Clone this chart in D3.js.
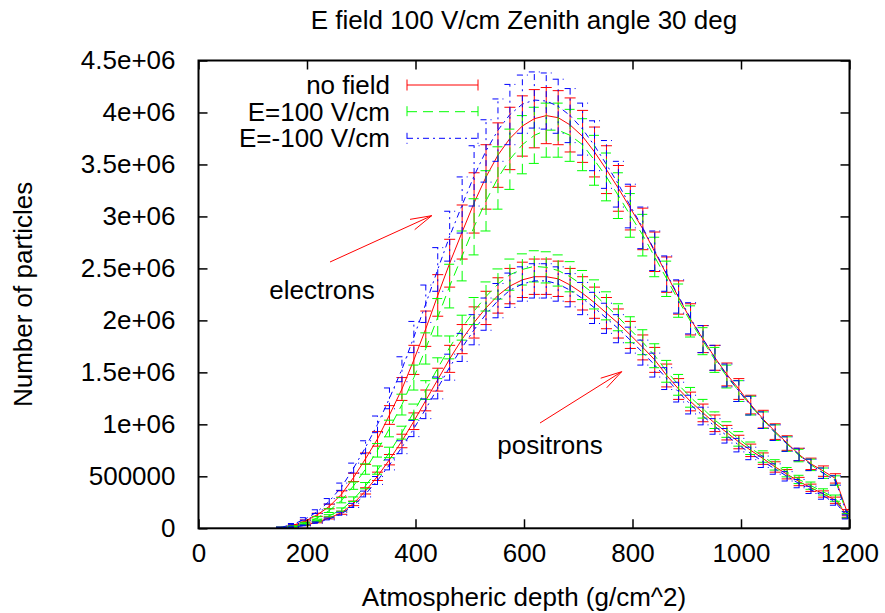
<!DOCTYPE html>
<html><head><meta charset="utf-8">
<script src="https://cdn.jsdelivr.net/npm/d3@7"></script>
<style>body{margin:0;background:#fff} text{font-family:"Liberation Sans",Arial,sans-serif;fill:#000}</style>
</head><body><svg id="c" width="885" height="613"></svg>
<script>
const depth = [153,175,197,219,241,264,286,308,330,352,375,397,419,441,463,486,508,530,552,574,597,619,641,663,685,708,730,752,774,796,819,841,863,885,907,930,952,974,996,1018,1041,1063,1085,1107,1129,1152,1174,1196];

// electrons (millions)
const eNoField = [0.01,0.03,0.07,0.13,0.21,0.33,0.49,0.67,0.86,1.09,1.34,1.62,1.92,2.24,2.55,2.85,3.13,3.38,3.59,3.75,3.87,3.94,3.97,3.95,3.88,3.77,3.62,3.45,3.27,3.08,2.88,2.66,2.44,2.22,2.01,1.82,1.64,1.48,1.34,1.19,1.05,0.93,0.82,0.71,0.62,0.55,0.48,0.15];
const eNoFieldErr = [0.002,0.005,0.01,0.015,0.022,0.03,0.04,0.055,0.07,0.09,0.11,0.14,0.17,0.2,0.23,0.26,0.29,0.31,0.31,0.3,0.29,0.28,0.27,0.26,0.26,0.25,0.24,0.23,0.22,0.21,0.2,0.19,0.17,0.16,0.15,0.13,0.12,0.11,0.1,0.09,0.085,0.075,0.07,0.06,0.055,0.05,0.045,0.03];
const eE100 = [0.01,0.02,0.05,0.10,0.17,0.27,0.41,0.57,0.75,0.96,1.19,1.45,1.73,2.03,2.33,2.62,2.90,3.15,3.37,3.55,3.69,3.78,3.83,3.83,3.78,3.69,3.54,3.38,3.20,3.01,2.82,2.61,2.40,2.19,1.99,1.80,1.62,1.46,1.32,1.18,1.04,0.92,0.81,0.70,0.61,0.53,0.46,0.13];
const eE100Err = [0.002,0.004,0.008,0.012,0.018,0.025,0.035,0.05,0.065,0.08,0.1,0.12,0.15,0.18,0.21,0.24,0.27,0.29,0.3,0.29,0.28,0.27,0.26,0.26,0.25,0.25,0.24,0.23,0.22,0.21,0.2,0.19,0.17,0.16,0.15,0.13,0.12,0.11,0.1,0.09,0.08,0.075,0.07,0.06,0.055,0.05,0.045,0.03];
const eEm100 = [0.01,0.04,0.09,0.16,0.26,0.40,0.58,0.78,1.00,1.25,1.53,1.84,2.16,2.49,2.81,3.11,3.39,3.63,3.83,3.98,4.08,4.12,4.11,4.06,3.97,3.84,3.68,3.50,3.31,3.10,2.89,2.67,2.45,2.23,2.02,1.82,1.64,1.47,1.32,1.18,1.04,0.92,0.81,0.71,0.61,0.53,0.46,0.13];
const eEm100Err = [0.002,0.006,0.012,0.018,0.026,0.035,0.047,0.062,0.08,0.1,0.12,0.15,0.18,0.21,0.24,0.27,0.29,0.3,0.3,0.29,0.28,0.27,0.27,0.26,0.26,0.25,0.24,0.23,0.22,0.21,0.2,0.19,0.17,0.16,0.15,0.13,0.12,0.11,0.1,0.09,0.08,0.075,0.07,0.06,0.055,0.05,0.045,0.03];

// positrons (millions)
const pNoField = [0.005,0.015,0.03,0.06,0.10,0.15,0.24,0.36,0.50,0.66,0.84,1.03,1.23,1.43,1.63,1.82,1.98,2.12,2.24,2.33,2.39,2.42,2.42,2.40,2.34,2.26,2.17,2.07,1.97,1.86,1.74,1.62,1.47,1.34,1.22,1.11,1.01,0.92,0.83,0.75,0.67,0.59,0.52,0.45,0.39,0.33,0.27,0.12];
const pNoFieldErr = [0.001,0.002,0.004,0.007,0.01,0.015,0.022,0.03,0.04,0.05,0.065,0.08,0.1,0.11,0.13,0.14,0.15,0.16,0.17,0.17,0.17,0.17,0.17,0.17,0.16,0.16,0.15,0.15,0.14,0.13,0.12,0.12,0.11,0.1,0.09,0.085,0.08,0.07,0.065,0.06,0.055,0.05,0.045,0.04,0.035,0.03,0.03,0.02];
const pE100 = [0.005,0.015,0.035,0.07,0.12,0.18,0.28,0.41,0.56,0.73,0.92,1.12,1.33,1.54,1.74,1.93,2.09,2.23,2.35,2.44,2.49,2.52,2.51,2.48,2.42,2.34,2.25,2.14,2.03,1.91,1.79,1.66,1.51,1.38,1.26,1.15,1.04,0.95,0.86,0.77,0.69,0.61,0.54,0.47,0.41,0.35,0.29,0.12];
const pE100Err = [0.001,0.002,0.004,0.007,0.011,0.016,0.022,0.03,0.04,0.05,0.062,0.075,0.09,0.1,0.11,0.12,0.13,0.14,0.145,0.15,0.15,0.15,0.15,0.15,0.145,0.14,0.14,0.135,0.13,0.125,0.12,0.115,0.105,0.1,0.095,0.09,0.08,0.075,0.07,0.06,0.055,0.05,0.045,0.04,0.035,0.03,0.03,0.02];
const pEm100 = [0.005,0.012,0.028,0.055,0.09,0.14,0.22,0.33,0.46,0.61,0.78,0.96,1.15,1.35,1.55,1.74,1.91,2.06,2.19,2.29,2.35,2.38,2.38,2.35,2.29,2.21,2.12,2.02,1.92,1.81,1.69,1.57,1.44,1.31,1.19,1.08,0.98,0.89,0.80,0.72,0.64,0.57,0.50,0.43,0.37,0.31,0.25,0.11];
const pEm100Err = [0.001,0.002,0.004,0.006,0.009,0.014,0.02,0.028,0.038,0.048,0.062,0.078,0.095,0.105,0.125,0.135,0.145,0.155,0.165,0.165,0.165,0.165,0.165,0.165,0.16,0.155,0.15,0.145,0.135,0.125,0.12,0.115,0.105,0.095,0.09,0.085,0.075,0.07,0.065,0.06,0.055,0.05,0.045,0.04,0.035,0.03,0.028,0.02];

const xTicks = [0,200,400,600,800,1000,1200];
const yTicks = [0,0.5,1,1.5,2,2.5,3,3.5,4,4.5];
const yTickLabels = ["0","500000","1e+06","1.5e+06","2e+06","2.5e+06","3e+06","3.5e+06","4e+06","4.5e+06"];
const legendLabels = ["no field","E=100 V/cm","E=-100 V/cm"];

const FS = 26;
const FONT = '"Liberation Sans",Arial,sans-serif';
const svg = d3.select("#c");
const L = 198.5, R = 849.5, T = 60.5, B = 528.3;
const x = d3.scaleLinear([0,1200],[L,R]);
const y = d3.scaleLinear([0,4.5],[B,T]);

const styles = [
  {color:"#ff0000", dash:null},
  {color:"#00ff00", dash:"10,6"},
  {color:"#0000ff", dash:"6,4,2,4"}
];

svg.append("clipPath").attr("id","clip").append("rect")
  .attr("x",L).attr("y",T).attr("width",R-L).attr("height",B-T);

const plot = svg.append("g").attr("clip-path","url(#clip)");
const seriesList = [
  {v:eNoField, e:eNoFieldErr, s:0},
  {v:eE100, e:eE100Err, s:1},
  {v:eEm100, e:eEm100Err, s:2},
  {v:pNoField, e:pNoFieldErr, s:0},
  {v:pE100, e:pE100Err, s:1},
  {v:pEm100, e:pEm100Err, s:2}
];
const cap = 5.5;
seriesList.forEach(ser => {
  const st = styles[ser.s];
  const g = plot.append("g").attr("stroke",st.color).attr("fill","none").attr("stroke-width",1);
  if (st.dash) g.attr("stroke-dasharray", st.dash);
  const pts = depth.map((d,i)=>({d, v:ser.v[i], e:ser.e[i]}));
  g.selectAll("path.bar").data(pts).join("path").attr("class","bar")
    .attr("d", p => {
      const xx = x(p.d), y1 = y(p.v - p.e), y2 = y(p.v + p.e);
      return `M${xx},${y1}V${y2}M${xx-cap},${y1}H${xx+cap}M${xx-cap},${y2}H${xx+cap}`;
    });
  g.append("path").datum(pts)
    .attr("d", d3.line().x(p=>x(p.d)).y(p=>y(p.v)));
});

// axes
const tickLen = 9;
const ax = svg.append("g");
const xb = ax.append("g").attr("transform",`translate(0,${B})`)
  .call(d3.axisBottom(x).tickValues(xTicks).tickSize(-tickLen).tickPadding(15).tickFormat(d3.format("d")));
const xt = ax.append("g").attr("transform",`translate(0,${T})`)
  .call(d3.axisTop(x).tickValues(xTicks).tickSize(-tickLen).tickFormat(""));
const yl = ax.append("g").attr("transform",`translate(${L},0)`)
  .call(d3.axisLeft(y).tickValues(yTicks).tickSize(-tickLen).tickPadding(23).tickFormat((d,i)=>yTickLabels[i]));
const yr = ax.append("g").attr("transform",`translate(${R},0)`)
  .call(d3.axisRight(y).tickValues(yTicks).tickSize(-tickLen).tickFormat(""));
[xb,xt,yl,yr].forEach(g=>g.attr("font-size",FS).attr("font-family",FONT));
ax.selectAll(".domain").remove();
ax.selectAll(".tick line").attr("stroke","#000").attr("stroke-width",1.5);
ax.selectAll(".tick text").attr("fill","#000");
svg.append("rect").attr("x",L).attr("y",T).attr("width",R-L).attr("height",B-T)
  .attr("fill","none").attr("stroke","#000").attr("stroke-width",2);

// titles
svg.append("text").attr("x",(L+R)/2).attr("y",29).attr("text-anchor","middle").attr("font-size",FS)
  .text("E field 100 V/cm Zenith angle 30 deg");
svg.append("text").attr("x",(L+R)/2).attr("y",606).attr("text-anchor","middle").attr("font-size",FS)
  .text("Atmospheric depth (g/cm^2)");
svg.append("text").attr("transform",`translate(32,${(T+B)/2}) rotate(-90)`).attr("text-anchor","middle").attr("font-size",FS)
  .text("Number of particles");

// legend
const legY = [85, 111.7, 138.3];
legendLabels.forEach((lab,i)=>{
  const st = styles[i];
  svg.append("text").attr("x",390).attr("y",legY[i]).attr("dy","0.35em").attr("text-anchor","end").attr("font-size",FS).text(lab);
  const g = svg.append("g").attr("stroke",st.color).attr("stroke-width",1).attr("fill","none");
  if (st.dash) g.attr("stroke-dasharray",st.dash);
  g.append("path").attr("d",`M407,${legY[i]}H478M407,${legY[i]-5.5}V${legY[i]+5.5}M478,${legY[i]-5.5}V${legY[i]+5.5}`);
});

// annotations with arrows
function arrow(x1,y1,x2,y2){
  const a = Math.atan2(y2-y1,x2-x1), len=22, hw=0.26;
  const g = svg.append("g").attr("stroke","#ff0000").attr("stroke-width",1).attr("fill","none");
  g.append("line").attr("x1",x1).attr("y1",y1).attr("x2",x2).attr("y2",y2);
  g.append("path").attr("d",`M${x2-len*Math.cos(a-hw)},${y2-len*Math.sin(a-hw)}L${x2},${y2}L${x2-len*Math.cos(a+hw)},${y2-len*Math.sin(a+hw)}`);
}
arrow(330,262,431.7,215.7);
arrow(540,423,621.7,371.7);
svg.append("text").attr("x",322).attr("y",290).attr("dy","0.35em").attr("text-anchor","middle").attr("font-size",FS).text("electrons");
svg.append("text").attr("x",550).attr("y",445).attr("dy","0.35em").attr("text-anchor","middle").attr("font-size",FS).text("positrons");
</script></body></html>
